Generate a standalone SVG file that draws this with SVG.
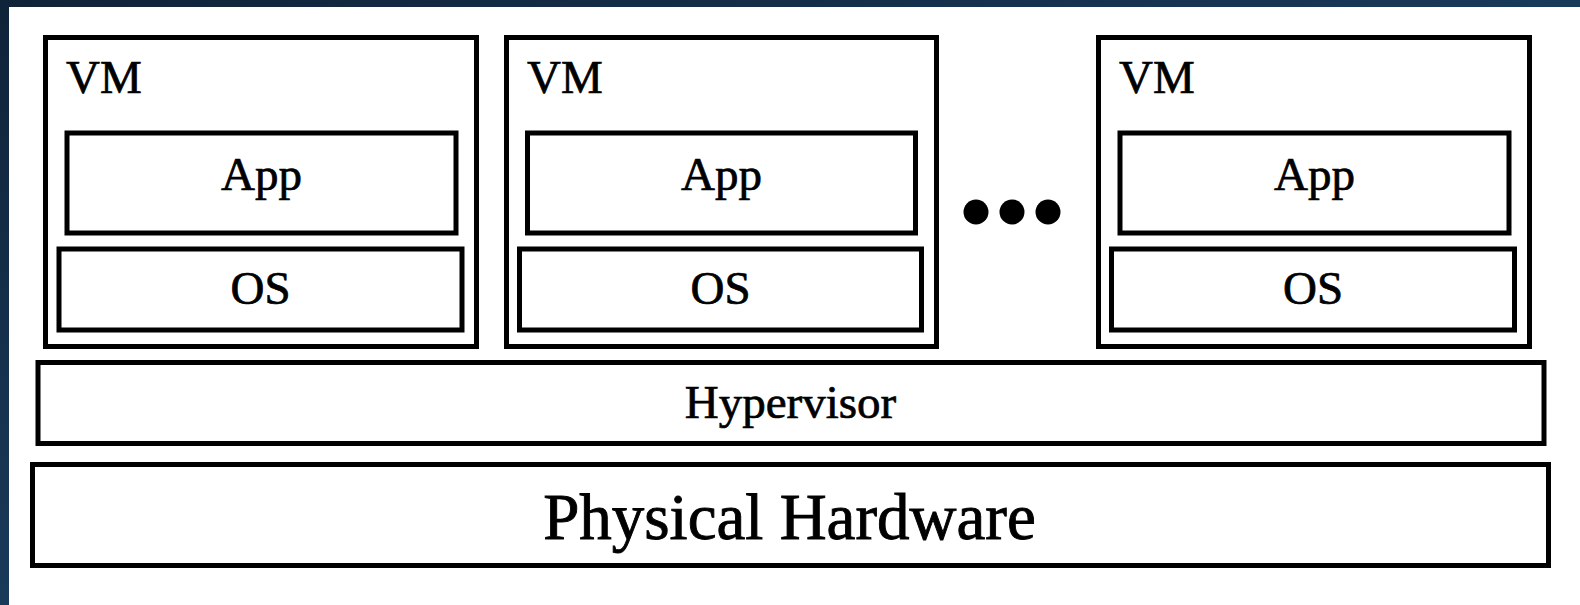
<svg xmlns="http://www.w3.org/2000/svg" width="1580" height="605" viewBox="0 0 1580 605">
<defs>
<linearGradient id="bg" x1="0" y1="0" x2="1" y2="1">
<stop offset="0" stop-color="#0f2338"/>
<stop offset="0.5" stop-color="#1a3a5a"/>
<stop offset="1" stop-color="#142f4c"/>
</linearGradient>
</defs>
<style>
.box{fill:#ffffff;stroke:#000000;stroke-width:5}
.t{font-family:"Liberation Serif","Times New Roman",serif;fill:#000000;stroke:#000000;stroke-width:0.7;font-size:47px}
.c{text-anchor:middle}
.big{font-size:65px;stroke-width:0.9}
.dot{fill:#000000}
</style>
<rect x="0" y="0" width="1580" height="605" fill="url(#bg)"/>
<rect x="9" y="7" width="1571" height="598" fill="#ffffff"/>
<g id="vm1">
<rect class="box" x="45.5" y="37.5" width="431" height="309"/>
<text class="t" x="66" y="93">VM</text>
<g id="app1"><rect class="box" x="67" y="133" width="389" height="100"/><text class="t c" x="261.5" y="190">App</text></g>
<g id="os1"><rect class="box" x="59" y="249" width="403" height="81"/><text class="t c" x="260.5" y="304">OS</text></g>
</g>
<g id="vm2">
<rect class="box" x="506.5" y="37.5" width="430" height="309"/>
<text class="t" x="527" y="93">VM</text>
<g id="app2"><rect class="box" x="527.5" y="133" width="388" height="100"/><text class="t c" x="721.5" y="190">App</text></g>
<g id="os2"><rect class="box" x="519.5" y="249" width="402" height="81"/><text class="t c" x="720.5" y="304">OS</text></g>
</g>
<g id="ellipsis">
<circle class="dot" cx="976" cy="212" r="12.5"/>
<circle class="dot" cx="1012" cy="212" r="12.5"/>
<circle class="dot" cx="1048" cy="212" r="12.5"/>
</g>
<g id="vm3">
<rect class="box" x="1098.5" y="37.5" width="431" height="309"/>
<text class="t" x="1119" y="93">VM</text>
<g id="app3"><rect class="box" x="1120" y="133" width="389" height="100"/><text class="t c" x="1314.5" y="190">App</text></g>
<g id="os3"><rect class="box" x="1111.5" y="249" width="403" height="81"/><text class="t c" x="1313" y="304">OS</text></g>
</g>
<g id="hypervisor">
<rect class="box" x="38" y="362.5" width="1506" height="81"/>
<text class="t c" x="790.5" y="418">Hypervisor</text>
</g>
<g id="hardware">
<rect class="box" x="32.5" y="464.5" width="1516" height="101"/>
<text class="t c big" x="789.5" y="539">Physical Hardware</text>
</g>
<g id="connectors"/>
</svg>
